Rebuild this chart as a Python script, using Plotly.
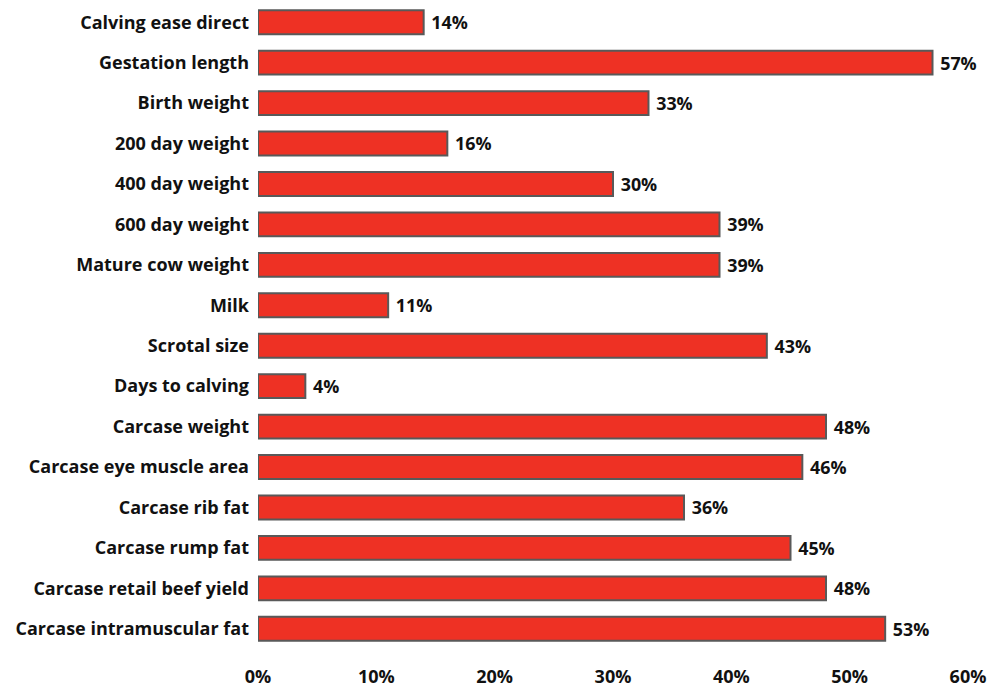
import plotly.graph_objects as go

categories = [
    "Calving ease direct", "Gestation length", "Birth weight", "200 day weight",
    "400 day weight", "600 day weight", "Mature cow weight", "Milk",
    "Scrotal size", "Days to calving", "Carcase weight", "Carcase eye muscle area",
    "Carcase rib fat", "Carcase rump fat", "Carcase retail beef yield",
    "Carcase intramuscular fat",
]
values = [14, 57, 33, 16, 30, 39, 39, 11, 43, 4, 48, 46, 36, 45, 48, 53]
tick_vals = [0, 10, 20, 30, 40, 50, 60]
tick_text = ["0%", "10%", "20%", "30%", "40%", "50%", "60%"]

font_family = "'Open Sans', sans-serif"
txt_color = "#111111"
fs = 18

fig = go.Figure(go.Bar(
    y=categories,
    x=values,
    orientation="h",
    marker=dict(color="#EE3124", line=dict(color="#595959", width=2)),
    text=[f" {v}%" for v in values],
    textposition="outside",
    textfont=dict(family=font_family, size=fs, color=txt_color, weight="bold"),
    cliponaxis=False,
))

fig.update_layout(
    width=988, height=687,
    margin=dict(l=258, r=20, t=2, b=38),
    plot_bgcolor="white", paper_bgcolor="white",
    bargap=0.41,
    showlegend=False,
    font=dict(family=font_family, size=fs, color=txt_color, weight="bold"),
)
fig.update_xaxes(
    range=[0, 60], tickvals=tick_vals, ticktext=tick_text,
    showgrid=False, zeroline=False, showline=False, ticks="",
    automargin=False, ticklabelstandoff=15,
    tickfont=dict(family=font_family, size=fs, color=txt_color, weight="bold"),
)
fig.update_yaxes(
    categoryorder="array", categoryarray=categories[::-1],
    showgrid=False, zeroline=False, showline=False, ticks="",
    automargin=False, ticklabelstandoff=8,
    tickfont=dict(family=font_family, size=fs, color=txt_color, weight="bold"),
)

fig.write_html("out.html", config={"displayModeBar": False},
               post_script="document.body.style.margin='0';")
